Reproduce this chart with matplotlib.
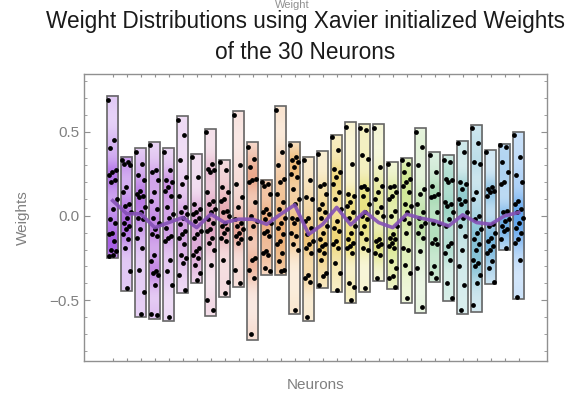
import numpy as np
import matplotlib
matplotlib.use('Agg')
import matplotlib.pyplot as plt
from matplotlib.colors import LinearSegmentedColormap, to_rgb
from matplotlib.patches import Rectangle

plt.rcParams['font.family'] = ['Liberation Sans', 'DejaVu Sans']

# weights, one list per neuron
weights = [
    [0.69, 0.45, 0.40, 0.27, 0.26, 0.24, 0.21, 0.20, 0.10, 0.04, -0.02, -0.04, -0.10, -0.11, -0.15, -0.20, -0.21, -0.23, -0.24],
    [0.33, 0.32, 0.31, 0.30, 0.17, 0.14, 0.07, 0.06, 0.02, -0.01, -0.04, -0.06, -0.08, -0.11, -0.14, -0.19, -0.33, -0.43],
    [0.38, 0.31, 0.24, 0.21, 0.15, 0.13, 0.12, 0.11, 0.05, 0.02, -0.01, -0.02, -0.08, -0.13, -0.19, -0.32, -0.45, -0.58],
    [0.42, 0.27, 0.26, 0.21, 0.14, 0.09, 0.04, -0.01, -0.04, -0.08, -0.11, -0.12, -0.23, -0.27, -0.33, -0.34, -0.35, -0.41, -0.58, -0.59],
    [0.38, 0.27, 0.21, 0.20, 0.17, 0.15, 0.12, 0.05, 0.01, -0.01, -0.07, -0.12, -0.13, -0.15, -0.26, -0.33, -0.41, -0.60],
    [0.57, 0.48, 0.33, 0.23, 0.19, 0.12, 0.05, 0.02, 0.01, -0.01, -0.05, -0.09, -0.11, -0.13, -0.17, -0.23, -0.25, -0.28, -0.35, -0.44],
    [0.35, 0.23, 0.07, 0.04, 0.02, 0.01, -0.01, -0.03, -0.09, -0.11, -0.13, -0.19, -0.21, -0.23, -0.25, -0.29, -0.34, -0.38],
    [0.50, 0.31, 0.28, 0.27, 0.26, 0.14, 0.09, 0.07, 0.04, 0.02, -0.02, -0.04, -0.08, -0.09, -0.13, -0.16, -0.20, -0.29, -0.50, -0.56],
    [0.32, 0.27, 0.17, 0.14, 0.10, 0.09, 0.03, 0.02, 0.00, -0.04, -0.06, -0.08, -0.10, -0.13, -0.15, -0.26, -0.39, -0.46],
    [0.60, 0.30, 0.19, 0.11, 0.05, -0.02, -0.04, -0.06, -0.08, -0.10, -0.12, -0.14, -0.16, -0.32, -0.40],
    [0.41, 0.34, 0.29, 0.22, 0.21, 0.20, 0.08, 0.00, -0.03, -0.06, -0.13, -0.25, -0.26, -0.32, -0.37, -0.70],
    [0.20, 0.19, 0.18, 0.13, 0.04, 0.02, 0.01, -0.02, -0.04, -0.09, -0.10, -0.12, -0.21, -0.22, -0.23, -0.31, -0.33],
    [0.63, 0.38, 0.30, 0.22, 0.20, 0.13, 0.08, 0.04, -0.01, -0.04, -0.07, -0.11, -0.15, -0.17, -0.22, -0.27, -0.32, -0.33],
    [0.42, 0.35, 0.33, 0.32, 0.29, 0.25, 0.23, 0.16, 0.10, 0.07, -0.01, -0.02, -0.04, -0.10, -0.12, -0.17, -0.20, -0.56],
    [0.33, 0.21, 0.11, 0.10, -0.01, -0.03, -0.07, -0.11, -0.15, -0.17, -0.19, -0.22, -0.35, -0.37, -0.39, -0.60],
    [0.37, 0.19, 0.18, 0.13, 0.07, 0.04, 0.02, -0.01, -0.06, -0.10, -0.14, -0.17, -0.18, -0.20, -0.22, -0.26, -0.34, -0.36, -0.41],
    [0.47, 0.39, 0.28, 0.26, 0.23, 0.19, 0.14, 0.10, 0.04, -0.03, -0.07, -0.09, -0.15, -0.17, -0.19, -0.28, -0.34, -0.44],
    [0.53, 0.31, 0.13, 0.12, 0.08, 0.06, 0.02, -0.01, -0.06, -0.10, -0.14, -0.16, -0.18, -0.19, -0.22, -0.40, -0.42, -0.50],
    [0.52, 0.51, 0.36, 0.34, 0.18, 0.17, 0.16, 0.12, 0.07, 0.02, 0.00, -0.02, -0.06, -0.10, -0.14, -0.19, -0.20, -0.43],
    [0.52, 0.29, 0.22, 0.18, 0.14, 0.10, 0.05, 0.02, 0.00, -0.14, -0.15, -0.17, -0.18, -0.22, -0.23, -0.37],
    [0.31, 0.18, 0.17, 0.14, 0.12, 0.10, 0.03, 0.00, -0.06, -0.11, -0.13, -0.14, -0.16, -0.18, -0.19, -0.27, -0.31, -0.36, -0.37, -0.42],
    [0.33, 0.31, 0.26, 0.22, 0.20, 0.18, 0.14, 0.07, 0.06, 0.02, -0.02, -0.04, -0.10, -0.19, -0.20, -0.29, -0.34, -0.49],
    [0.50, 0.41, 0.30, 0.16, 0.13, 0.07, 0.02, -0.01, -0.04, -0.06, -0.10, -0.13, -0.21, -0.31, -0.54],
    [0.36, 0.26, 0.18, 0.13, 0.12, 0.11, 0.02, -0.04, -0.05, -0.14, -0.16, -0.17, -0.30, -0.34, -0.37],
    [0.33, 0.32, 0.22, 0.21, 0.20, 0.08, 0.07, 0.06, 0.02, -0.02, -0.06, -0.16, -0.18, -0.22, -0.26, -0.40, -0.49],
    [0.43, 0.38, 0.20, 0.19, 0.16, 0.10, 0.09, 0.07, 0.02, -0.01, -0.06, -0.12, -0.20, -0.30, -0.41, -0.56],
    [0.52, 0.43, 0.32, 0.31, 0.14, 0.10, 0.00, -0.02, -0.08, -0.10, -0.14, -0.17, -0.20, -0.26, -0.28, -0.30, -0.35, -0.40, -0.53],
    [0.38, 0.17, 0.16, 0.15, 0.14, 0.12, -0.05, -0.06, -0.10, -0.13, -0.15, -0.18, -0.20, -0.22, -0.27, -0.31, -0.39],
    [0.42, 0.41, 0.32, 0.26, 0.20, 0.19, 0.03, 0.02, -0.02, -0.03, -0.06, -0.08, -0.09, -0.14, -0.19],
    [0.48, 0.35, 0.24, 0.20, 0.09, 0.07, 0.04, 0.02, -0.01, -0.04, -0.07, -0.10, -0.14, -0.16, -0.26, -0.48],
]

# box ranges (min / max) per neuron
box_lo = [-0.253, -0.446, -0.598, -0.614, -0.624, -0.459, -0.400, -0.594, -0.479, -0.420,
          -0.737, -0.352, -0.352, -0.584, -0.626, -0.426, -0.455, -0.515, -0.455, -0.386,
          -0.436, -0.515, -0.574, -0.392, -0.505, -0.584, -0.568, -0.402, -0.204, -0.495]
box_hi = [0.709, 0.350, 0.404, 0.436, 0.404, 0.590, 0.366, 0.515, 0.333, 0.624,
          0.436, 0.212, 0.650, 0.436, 0.350, 0.384, 0.479, 0.558, 0.545, 0.545,
          0.317, 0.343, 0.521, 0.376, 0.360, 0.446, 0.541, 0.392, 0.426, 0.495]

# mean weight per neuron (purple line)
means = [0.09, 0.012, 0.012, -0.07, -0.04, -0.01, -0.07, 0.01, -0.04, -0.02,
         -0.02, -0.05, 0.01, 0.065, -0.11, -0.05, 0.05, -0.053, 0.026, -0.04,
         -0.07, 0.01, -0.014, -0.03, -0.06, 0.006, -0.04, -0.05, 0.0, 0.02]

neurons = np.arange(1, len(weights) + 1)

pastel = LinearSegmentedColormap.from_list('pastel', [
    (0.0, '#a860e4'), (0.18, '#d6a2e4'), (0.3, '#e8a49c'), (0.4, '#eeae78'),
    (0.58, '#f0de78'), (0.72, '#d2e890'), (0.82, '#a0d8c4'), (1.0, '#62a6ee')])

fig = plt.figure(figsize=(5.79, 3.98), dpi=100)
ax = fig.add_axes([0.1451, 0.0937, 0.7996, 0.7204])

w = 0.82
for i, (x, vals) in enumerate(zip(neurons, weights)):
    lo, hi = box_lo[i], box_hi[i]
    base = np.array(to_rgb(pastel(i / (len(weights) - 1))))
    # point density shading
    ys = np.linspace(lo, hi, 200)
    v = np.array(vals)
    dens = np.exp(-(ys[:, None] - v[None, :]) ** 2 / (2 * 0.07 ** 2)).sum(axis=1)
    dens = dens / dens.max()
    f = 0.25 + 0.75 * dens ** 1.3
    img = (1 - f[:, None]) * np.ones(3) + f[:, None] * base
    img = img[:, None, :]
    ax.imshow(img, extent=[x - w / 2, x + w / 2, lo, hi], origin='lower',
              aspect='auto', zorder=1, interpolation='bilinear')
    ax.add_patch(Rectangle((x - w / 2, lo), w, hi - lo, fill=False,
                           edgecolor='#666666', lw=1.2, zorder=2))
    offs = ((np.arange(len(vals)) * 0.618) % 1 - 0.5) * 0.62
    ax.scatter(x + offs, vals, s=12, color='black', zorder=3, linewidths=0)

ax.plot(neurons, means, color='#8450b6', lw=2.6, alpha=0.9, zorder=4)

ax.set_xlim(-1.05, 32.02)
ax.set_ylim(-0.86, 0.842)
ax.set_xticks(neurons)
ax.set_xticklabels([])
ax.set_yticks([-0.5, 0.0, 0.5])
ax.set_yticklabels(['\u22120.5', '0.0', '0.5'])
ax.set_yticks(np.arange(-0.8, 0.81, 0.1), minor=True)
ax.tick_params(axis='both', which='both', direction='in', top=True, right=True,
               color='#909090', labelcolor='#808080', labelsize=11)
ax.tick_params(axis='both', which='major', length=4)
ax.tick_params(axis='both', which='minor', length=2.5)
ax.tick_params(axis='x', which='major', length=2.5)
for s in ax.spines.values():
    s.set_color('#909090')
    s.set_linewidth(1.0)

ax.set_ylabel('Weights', color='#808080', fontsize=11, labelpad=14)
ax.set_xlabel('Neurons', color='#808080', fontsize=11, labelpad=9)

fig.text(0.505, 0.999, 'Weight', ha='center', va='top', fontsize=8, color='#909090')
fig.text(0.527, 0.945, 'Weight Distributions using Xavier initialized Weights',
         ha='center', va='center', fontsize=16.3, color='#1a1a1a')
fig.text(0.527, 0.869, 'of the 30 Neurons',
         ha='center', va='center', fontsize=16.3, color='#1a1a1a')

fig.savefig('out.png', dpi=100)
